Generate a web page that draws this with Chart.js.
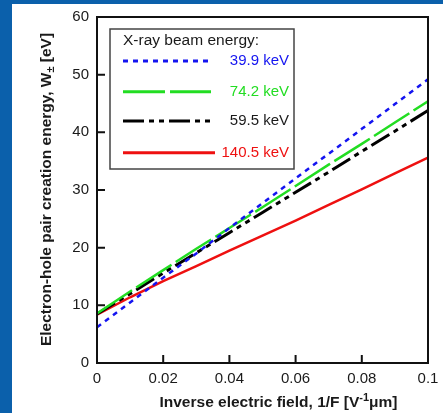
<!DOCTYPE html>
<html>
<head>
<meta charset="utf-8">
<script src="https://cdn.jsdelivr.net/npm/chart.js@4"></script>
<style>
  html, body { margin: 0; padding: 0; }
  body { width: 443px; height: 413px; background: #0b60ab; position: relative; overflow: hidden; }
  .panel { position: absolute; left: 12px; top: 4px; width: 431px; height: 409px; background: #fff; }
</style>
</head>
<body>
<div class="panel"><canvas id="chart" width="431" height="409"></canvas></div>
<script>
// inverse field 1/F [V^-1 um]
const xValues = [0, 0.01, 0.02, 0.03, 0.04, 0.05, 0.06, 0.07, 0.08, 0.09, 0.1];

const seriesNames = ['39.9 keV', '74.2 keV', '59.5 keV', '140.5 keV'];
const w399 = [6.2, 10.5, 14.8, 19.0, 23.4, 27.7, 32.0, 36.3, 40.6, 44.9, 49.2];
const w742 = [8.6, 12.4, 16.1, 19.8, 23.4, 27.0, 30.7, 34.4, 38.0, 41.7, 45.4];
const w595 = [8.5, 12.0, 15.6, 19.1, 22.6, 26.1, 29.6, 33.1, 36.7, 40.2, 43.8];
const w1405 = [8.4, 11.4, 14.2, 16.8, 19.5, 22.1, 24.7, 27.4, 30.1, 32.9, 35.6];

const xTicks = [0, 0.02, 0.04, 0.06, 0.08, 0.1];
const xTickLabels = ['0', '0.02', '0.04', '0.06', '0.08', '0.1'];
const yTicks = [0, 10, 20, 30, 40, 50, 60];

const colors = ['#1414f0', '#22dd22', '#000000', '#ee1010'];
const dashes = [[5, 5], [42, 5], [21, 5, 5, 5, 5, 5], []];
const allSeries = [w399, w742, w595, w1405];

const txt = '#1a1a1a';
const fontFam = 'Liberation Sans, Arial, sans-serif';

const frame = {
    id: 'frame',
    afterDatasetsDraw(chart) {
        const { ctx, chartArea: a, scales } = chart;
        ctx.save();
        ctx.strokeStyle = '#111';
        ctx.lineWidth = 2;
        ctx.strokeRect(a.left, a.top, a.right - a.left, a.bottom - a.top);
        ctx.beginPath();
        xTicks.slice(1, -1).forEach(v => {
            const px = scales.x.getPixelForValue(v);
            ctx.moveTo(px, a.bottom);
            ctx.lineTo(px, a.bottom - 8);
        });
        yTicks.slice(1, -1).forEach(v => {
            const py = scales.y.getPixelForValue(v);
            ctx.moveTo(a.left, py);
            ctx.lineTo(a.left + 8, py);
        });
        ctx.stroke();
        ctx.restore();
    }
};

// axis titles with sub/superscripts
function drawRich(ctx, parts, cx, cy) {
    let total = 0;
    parts.forEach(p => {
        ctx.font = p.small ? 'bold 11px ' + fontFam : 'bold 15.5px ' + fontFam;
        p.w = ctx.measureText(p.t).width;
        total += p.w;
    });
    let x = cx - total / 2;
    parts.forEach(p => {
        ctx.font = p.small ? 'bold 11px ' + fontFam : 'bold 15.5px ' + fontFam;
        ctx.fillText(p.t, x, cy + (p.sub ? 4 : p.sup ? -5 : 0));
        x += p.w;
    });
}

const axisTitles = {
    id: 'axisTitles',
    afterDraw(chart) {
        const { ctx } = chart;
        ctx.save();
        ctx.fillStyle = txt;
        ctx.textBaseline = 'middle';
        ctx.textAlign = 'left';
        drawRich(ctx, [
            { t: 'Inverse electric field, 1/F [V' },
            { t: '-1', small: true, sup: true },
            { t: '\u03bcm]' }
        ], 266.5, 399);
        ctx.translate(35, 185.5);
        ctx.rotate(-Math.PI / 2);
        drawRich(ctx, [
            { t: 'Electron-hole pair creation energy, W' },
            { t: '\u00b1', small: true, sub: true },
            { t: ' [eV]' }
        ], 0, 0);
        ctx.restore();
    }
};

const legendBox = {
    id: 'legendBox',
    afterDraw(chart) {
        const { ctx, chartArea: a } = chart;
        const left = a.left + 13, top = a.top + 12;
        ctx.save();
        ctx.fillStyle = '#fff';
        ctx.fillRect(left, top, 184, 140);
        ctx.strokeStyle = '#444';
        ctx.lineWidth = 1.5;
        ctx.strokeRect(left, top, 184, 140);
        ctx.font = '15.5px ' + fontFam;
        ctx.textBaseline = 'middle';
        ctx.fillStyle = txt;
        ctx.fillText('X-ray beam energy:', left + 13, top + 12);
        ctx.font = '15px ' + fontFam;
        const rows = [32, 62.7, 92, 123.7];
        seriesNames.forEach((name, i) => {
            const y = top + rows[i];
            ctx.beginPath();
            ctx.setLineDash(dashes[i]);
            ctx.lineWidth = 3;
            ctx.strokeStyle = colors[i];
            ctx.moveTo(left + 13, y);
            ctx.lineTo(left + (i === 3 ? 105 : 101), y);
            ctx.stroke();
            ctx.setLineDash([]);
            ctx.fillStyle = i === 2 ? txt : colors[i];
            ctx.textAlign = 'right';
            ctx.fillText(name, left + 179, y);
            ctx.textAlign = 'left';
        });
        ctx.restore();
    }
};

new Chart(document.getElementById('chart'), {
    type: 'line',
    data: {
        datasets: seriesNames.map((name, i) => ({
            label: name,
            data: xValues.map((x, j) => ({ x, y: allSeries[i][j] })),
            borderColor: colors[i],
            borderDash: dashes[i],
            borderWidth: i === 2 ? 3 : 2.5,
            pointRadius: 0,
            tension: 0,
            fill: false
        }))
    },
    options: {
        responsive: false,
        devicePixelRatio: 1,
        animation: false,
        layout: { padding: { top: 13, right: 15, left: 0, bottom: 0 } },
        plugins: { legend: { display: false }, tooltip: { enabled: false } },
        scales: {
            x: {
                type: 'linear',
                min: 0,
                max: 0.1,
                grid: { display: false, drawTicks: false },
                border: { display: false },
                ticks: {
                    color: txt,
                    padding: 7,
                    maxRotation: 0,
                    font: { size: 15, family: fontFam },
                    callback: (v) => xTickLabels[xTicks.indexOf(v)] ?? ''
                },
                afterBuildTicks: (s) => { s.ticks = xTicks.map(v => ({ value: v })); },
                afterFit: (s) => { s.height = 50; s.paddingLeft = 0; s.paddingRight = 0; }
            },
            y: {
                min: 0,
                max: 60,
                grid: { display: false, drawTicks: false },
                border: { display: false },
                ticks: {
                    color: txt,
                    padding: 8,
                    font: { size: 15, family: fontFam }
                },
                afterBuildTicks: (s) => { s.ticks = yTicks.map(v => ({ value: v })); },
                afterFit: (s) => { s.width = 85; s.paddingTop = 0; s.paddingBottom = 0; }
            }
        }
    },
    plugins: [frame, axisTitles, legendBox]
});
</script>
</body>
</html>
